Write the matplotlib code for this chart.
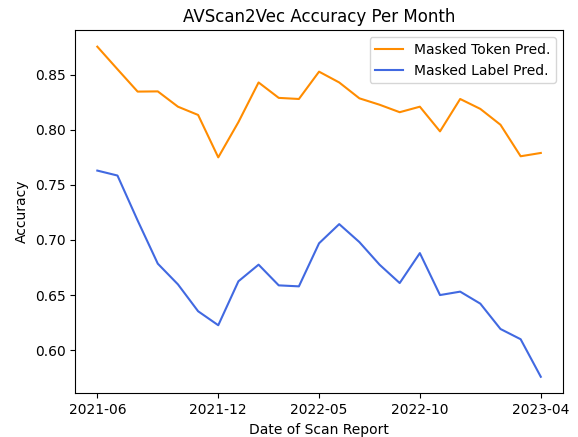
import matplotlib
matplotlib.use('Agg')
import matplotlib.pyplot as plt
import numpy as np

# months: 2021-06 .. 2023-04
months = ['2021-06', '2021-07', '2021-08', '2021-09', '2021-10', '2021-11',
          '2021-12', '2022-01', '2022-02', '2022-03', '2022-04', '2022-05',
          '2022-06', '2022-07', '2022-08', '2022-09', '2022-10', '2022-11',
          '2022-12', '2023-01', '2023-02', '2023-03', '2023-04']

token_acc = [0.8755, 0.855, 0.8347, 0.8349, 0.821, 0.8135, 0.775, 0.807,
             0.843, 0.829, 0.828, 0.8528, 0.843, 0.8286, 0.8228, 0.816,
             0.821, 0.7986, 0.828, 0.819, 0.8046, 0.776, 0.779]
label_acc = [0.763, 0.7585, 0.7177, 0.6785, 0.6597, 0.6353, 0.6226, 0.6625,
             0.6776, 0.6588, 0.6579, 0.697, 0.7144, 0.6981, 0.6776, 0.6609,
             0.6881, 0.650, 0.6531, 0.6422, 0.6192, 0.6099, 0.5758]

tick_labels = ['2021-06', '2021-12', '2022-05', '2022-10', '2023-04']

x = np.arange(len(months))
tick_pos = [months.index(t) for t in tick_labels]

fig, ax = plt.subplots(figsize=(5.78, 4.37), dpi=100)
fig.subplots_adjust(left=0.13, right=0.974, top=0.931, bottom=0.10)

ax.plot(x, token_acc, color='darkorange', label='Masked Token Pred.')
ax.plot(x, label_acc, color='royalblue', label='Masked Label Pred.')

ax.set_xticks(tick_pos)
ax.set_xticklabels(tick_labels)
ax.set_xlabel('Date of Scan Report')
ax.set_ylabel('Accuracy')
ax.set_title('AVScan2Vec Accuracy Per Month')
ax.legend(loc='upper right')

fig.savefig('out.png', dpi=100)
